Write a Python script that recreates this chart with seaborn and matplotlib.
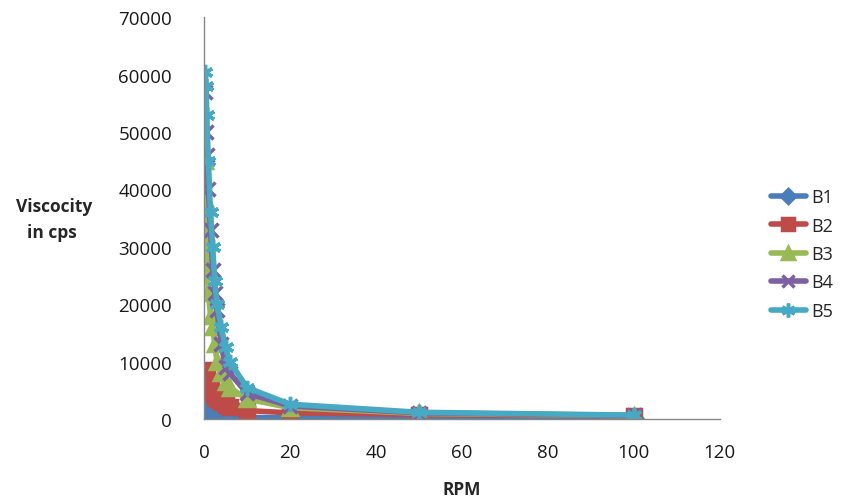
import matplotlib
matplotlib.use("Agg")
import matplotlib.pyplot as plt
import seaborn as sns
import pandas as pd
from matplotlib.lines import Line2D

rpm = [0.3, 0.5, 0.6, 1, 1.5, 2, 2.5, 3, 4, 5, 6, 10, 20, 50, 100]
b1 = [1500, 1300, 1200, 1000, 900, 800, 700, 600, 500, 450, 400, 300, 250, 200, 150]
b2 = [8500, 8000, 7500, 6500, 5500, 4500, 4000, 3500, 3000, 2500, 2200, 1500, 1100, 800, 600]
b3 = [45000, 38000, 28000, 22000, 18000, 16000, 13000, 10000, 8000, 6500, 5500, 3500, 2000, 1000, 600]
b4 = [57000, 50000, 46000, 40000, 33000, 26000, 22000, 19000, 13000, 9000, 8000, 4500, 2300, 1100, 650]
b5 = [60500, 58000, 53000, 45000, 36000, 30000, 24000, 20000, 16000, 12500, 10000, 5500, 2600, 1200, 700]
series_names = ["B1", "B2", "B3", "B4", "B5"]
series_vals = [b1, b2, b3, b4, b5]

colors = ["#4A7EBB", "#BE4B48", "#98B954", "#7D60A0", "#46AAC5"]
markers = ["D", "s", "^", "x", (6, 2, 0)]
msizes = [8, 10, 10, 10, 11]

df = pd.concat([pd.DataFrame({"RPM": rpm, "Viscosity": v, "Series": n})
                for n, v in zip(series_names, series_vals)], ignore_index=True)

sns.set_style("white")
plt.rcParams["font.family"] = ["Open Sans", "DejaVu Sans"]

fig = plt.figure(figsize=(8.61, 5.02), dpi=100)
ax = fig.add_axes([0.237, 0.163, 0.599, 0.801])

handles = []
for name, c, m, ms in zip(series_names, colors, markers, msizes):
    sub = df[df["Series"] == name]
    sns.lineplot(data=sub, x="RPM", y="Viscosity", ax=ax, color=c, linewidth=4,
                 marker=m, markersize=ms, markeredgecolor=c, markeredgewidth=2.5,
                 sort=False, legend=False)
    handles.append(Line2D([0], [0], color=c, lw=4, marker=m, markersize=ms - 1,
                          markeredgecolor=c, markeredgewidth=2.5))

ax.set_xlim(0, 120)
ax.set_ylim(0, 70000)
ax.set_xticks(range(0, 121, 20))
ax.set_yticks(range(0, 70001, 10000))
for s in ["top", "right"]:
    ax.spines[s].set_visible(False)
for s in ["left", "bottom"]:
    ax.spines[s].set_color("#868686")
    ax.spines[s].set_linewidth(1)
ax.tick_params(axis="both", which="major", direction="out", length=5, width=1,
               color="#868686", labelsize=13.5, labelcolor="#1a1a1a")
ax.tick_params(axis="y", pad=18)
ax.tick_params(axis="x", pad=12)
ax.set_xlabel("RPM", fontsize=12.5, fontweight="bold", labelpad=14)
ax.set_ylabel("")
fig.text(0.063, 0.588, "Viscocity", fontsize=12.5, fontweight="bold", ha="center",
         va="center")
fig.text(0.060, 0.535, "in cps", fontsize=12.5, fontweight="bold", ha="center",
         va="center")

leg = fig.legend(handles, series_names, loc="center left",
                 bbox_to_anchor=(0.877, 0.492), frameon=False, fontsize=13,
                 handlelength=1.9, labelspacing=0.58, handletextpad=0.3)

fig.savefig("out.png", dpi=100)
